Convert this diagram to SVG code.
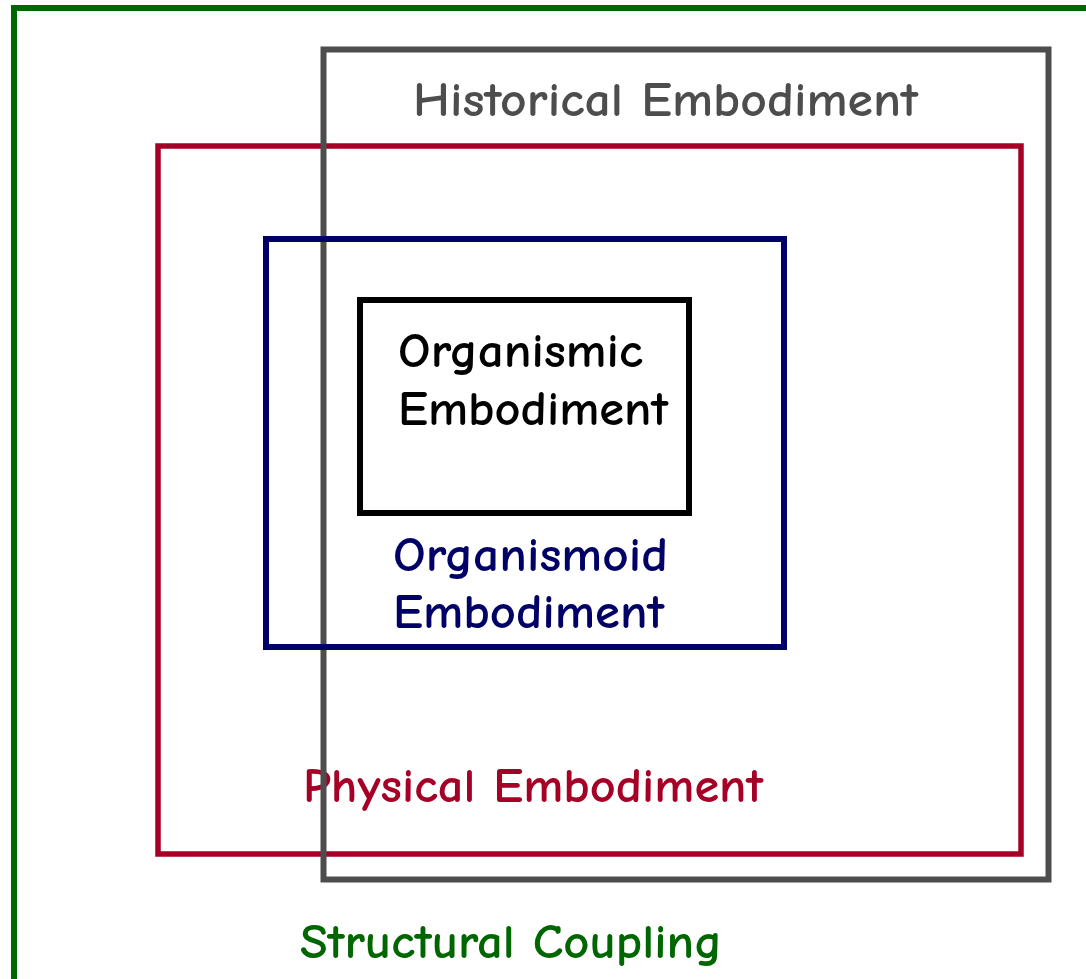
<svg xmlns="http://www.w3.org/2000/svg" width="1086" height="979" viewBox="0 0 1086 979">
<style>
rect.b{fill:none;}
text{font-family:"Comic Neue","DejaVu Sans","Liberation Sans",sans-serif;font-size:49px;font-weight:bold;}
</style>
<rect width="1086" height="979" fill="#ffffff"/>
<g id="structural">
<rect class="b" x="14" y="8" width="1100" height="1000" stroke="#006600" stroke-width="6"/>
<text x="300" y="958" fill="#006600" textLength="422" lengthAdjust="spacingAndGlyphs">Structural Coupling</text>
</g>
<g id="physical">
<rect class="b" x="158" y="146" width="863" height="708" stroke="#a50026" stroke-width="5.5"/>
<text x="303" y="802" fill="#a50026" textLength="460" lengthAdjust="spacingAndGlyphs">Physical Embodiment</text>
</g>
<g id="historical">
<rect class="b" x="323.5" y="49.5" width="725" height="830" stroke="#4d4d4d" stroke-width="6"/>
<text x="413" y="116" fill="#4d4d4d" textLength="505" lengthAdjust="spacingAndGlyphs">Historical Embodiment</text>
</g>
<g id="organismoid">
<rect class="b" x="266" y="239" width="518" height="408" stroke="#000066" stroke-width="6"/>
<text x="393" y="571" fill="#000066" textLength="275" lengthAdjust="spacingAndGlyphs">Organismoid</text>
<text x="393" y="628" fill="#000066" textLength="271" lengthAdjust="spacingAndGlyphs">Embodiment</text>
</g>
<g id="organismic">
<rect class="b" x="360" y="300" width="329" height="213" stroke="#000000" stroke-width="6"/>
<text x="398" y="367" fill="#000000" textLength="245" lengthAdjust="spacingAndGlyphs">Organismic</text>
<text x="398" y="425" fill="#000000" textLength="270" lengthAdjust="spacingAndGlyphs">Embodiment</text>
</g>
<g id="connectors"></g>
</svg>
